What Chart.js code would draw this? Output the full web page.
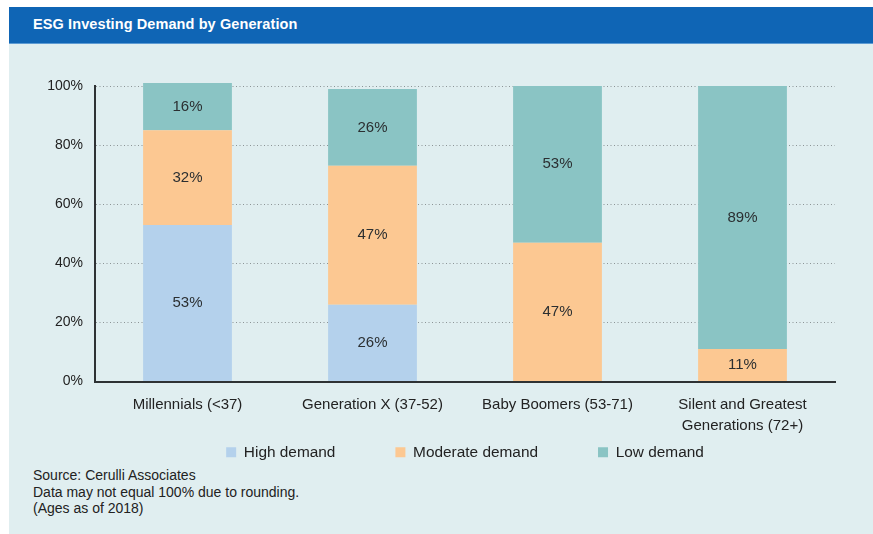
<!DOCTYPE html>
<html>
<head>
<meta charset="utf-8">
<script src="https://cdn.jsdelivr.net/npm/chart.js@4/dist/chart.umd.min.js"></script>
<style>
  html, body { margin: 0; padding: 0; background: #ffffff; }
  body { width: 873px; height: 534px; position: relative; overflow: hidden; font-family: "Liberation Sans", Arial, sans-serif; }
  #panel { position: absolute; left: 9px; top: 44px; width: 864px; height: 490px; background: #e0eef0; }
  #header { position: absolute; left: 9px; top: 7px; width: 864px; height: 36px; background: #0f65b5; border-bottom: 1px solid #5d9bd3; }
  #header h1 { margin: 0; position: absolute; left: 24px; top: 9px; font-size: 14.5px; font-weight: bold; color: #ffffff; letter-spacing: 0.1px; }
  #notes { position: absolute; left: 33px; top: 467px; font-size: 14px; line-height: 16.5px; color: #222; }
  #wrap { position: absolute; left: 0; top: 0; width: 873px; height: 534px; }
</style>
</head>
<body>
<div id="panel"></div>
<div id="header"><h1>ESG Investing Demand by Generation</h1></div>
<div id="notes">Source: Cerulli Associates<br>Data may not equal 100% due to rounding.<br>(Ages as of 2018)</div>
<div id="wrap"><canvas id="c" width="873" height="534"></canvas></div>
<script>
const categories = ["Millennials (<37)", "Generation X (37-52)", "Baby Boomers (53-71)", ["Silent and Greatest", "Generations (72+)"]];
const seriesNames = ["High demand", "Moderate demand", "Low demand"];
const highDemand = [53, 26, 0, 0];
const moderateDemand = [32, 47, 47, 11];
const lowDemand = [16, 26, 53, 89];
const yTickValues = [0, 20, 40, 60, 80, 100];

const colors = ["#b4d1ec", "#fcc892", "#8ac4c4"];
const seriesValues = [highDemand, moderateDemand, lowDemand];

const valueLabels = {
  id: 'valueLabels',
  afterDatasetsDraw(chart) {
    const ctx = chart.ctx;
    ctx.save();
    ctx.font = '15px "Liberation Sans", Arial, sans-serif';
    ctx.fillStyle = '#2b2f31';
    ctx.textAlign = 'center';
    ctx.textBaseline = 'middle';
    chart.data.datasets.forEach((ds, di) => {
      const meta = chart.getDatasetMeta(di);
      meta.data.forEach((el, i) => {
        const v = ds.data[i];
        if (!v) return;
        const p = el.getProps(['x', 'y', 'base'], true);
        ctx.fillText(v + '%', p.x, (p.y + p.base) / 2);
      });
    });
    ctx.restore();
  }
};

const legendShift = {
  id: 'legendShift',
  afterLayout(chart) {
    const lg = chart.legend;
    if (lg) { lg.top -= 56; lg.bottom -= 56; }
  }
};

new Chart(document.getElementById('c'), {
  type: 'bar',
  data: {
    labels: categories,
    datasets: seriesNames.map((name, i) => ({
      label: name,
      data: seriesValues[i],
      backgroundColor: colors[i],
      borderWidth: 0,
      clip: false,
      barPercentage: 0.48,
      categoryPercentage: 1
    }))
  },
  options: {
    responsive: false,
    animation: false,
    events: [],
    layout: { padding: { left: 0, right: 38, top: 86, bottom: 8 } },
    plugins: {
      tooltip: { enabled: false },
      legend: {
        position: 'bottom',
        fullSize: false,
        labels: {
          boxWidth: 10,
          boxHeight: 10,
          padding: 60,
          color: '#222',
          font: { size: 15.4, family: '"Liberation Sans", Arial, sans-serif' }
        }
      }
    },
    scales: {
      x: {
        stacked: true,
        grid: { display: false, drawTicks: false },
        border: { display: true, color: '#2e3234', width: 2 },
        ticks: {
          color: '#222',
          padding: 12,
          maxRotation: 0,
          autoSkip: false,
          font: { size: 15, family: '"Liberation Sans", Arial, sans-serif', lineHeight: 1.45 }
        },
        afterFit(scale) { scale.height = 59; }
      },
      y: {
        stacked: true,
        min: 0,
        max: 100,
        afterBuildTicks(scale) { scale.ticks = yTickValues.map(v => ({ value: v })); },
        grid: {
          drawTicks: false,
          lineWidth: 1,
          color: (c) => (c.tick && c.tick.value === 0) ? 'rgba(0,0,0,0)' : '#8c9496'
        },
        border: { display: true, color: '#2e3234', width: 2, dash: [1, 2.5] },
        ticks: {
          color: '#222',
          padding: 12,
          font: { size: 14, family: '"Liberation Sans", Arial, sans-serif' },
          callback: (v) => v + '%'
        },
        afterFit(scale) { scale.width = 95; }
      }
    }
  },
  plugins: [valueLabels, legendShift]
});
</script>
</body>
</html>
